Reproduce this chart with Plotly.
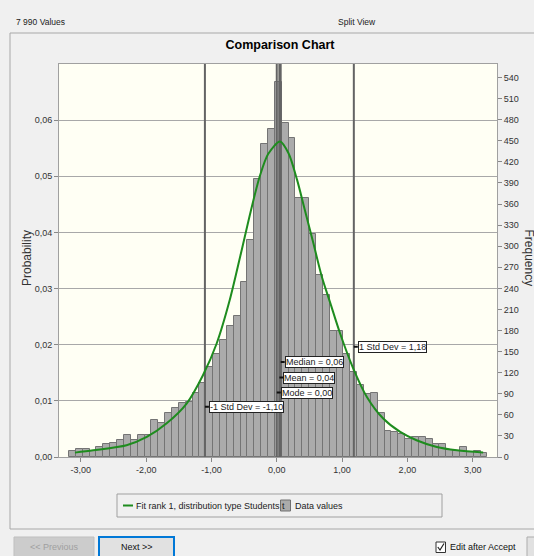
import plotly.graph_objects as go

# ---------------- data ----------------
N_VALUES = 7990
bin_start = -3.18
bin_width = 0.105
bin_counts = [9, 12, 11, 8, 14, 18, 20, 24, 31, 24,
              31, 32, 53, 48, 62, 70, 77, 78, 91, 105,
              128, 146, 166, 186, 200, 249, 309, 395, 446, 467,
              533, 476, 454, 369, 369, 318, 259, 230, 180, 180,
              147, 121, 103, 90, 91, 62, 37, 36, 33, 26,
              28, 29, 26, 19, 18, 10, 8, 14, 7, 8, 5]

curve_x = [-3.09, -2.81, -2.30, -1.99, -1.69, -1.38, -1.13, -0.92, -0.72, -0.55,
           -0.40, -0.26, -0.13, 0.05, 0.18, 0.31, 0.43, 0.56, 0.69, 0.82,
           0.97, 1.17, 1.38, 1.63, 1.89, 2.14, 2.45, 2.76, 3.16]
curve_p = [0.00078, 0.00119, 0.00209, 0.00357, 0.00596, 0.00952, 0.01457, 0.02022, 0.02795, 0.0362,
           0.0437, 0.0500, 0.0540, 0.0562, 0.0541, 0.0494, 0.0440, 0.0381, 0.0321, 0.0274,
           0.0220, 0.0158, 0.0107, 0.00685, 0.00446, 0.00298, 0.00178, 0.00119, 0.00078]

stat_labels = ["-1 Std Dev", "Mode", "Mean", "Median", "1 Std Dev"]
stat_values = [-1.10, 0.00, 0.04, 0.06, 1.18]

x_ticks = [-3, -2, -1, 0, 1, 2, 3]
x_tick_labels = ["-3,00", "-2,00", "-1,00", "0,00", "1,00", "2,00", "3,00"]
prob_ticks = [0.0, 0.01, 0.02, 0.03, 0.04, 0.05, 0.06]
prob_tick_labels = ["0,00", "0,01", "0,02", "0,03", "0,04", "0,05", "0,06"]
freq_ticks = [0, 30, 60, 90, 120, 150, 180, 210, 240, 270, 300, 330, 360, 390, 420, 450, 480, 510, 540]

fit_name = "Fit rank 1, distribution type Students t"
data_name = "Data values"

# ---------------- layout helpers ----------------
W, H = 534, 556
ML, MR, MT, MB = 59, 37, 64, 99
PW, PH = W - ML - MR, H - MT - MB
Y_MAX = 0.07
X_RANGE = [-3.334, 3.372]

FONT = "Liberation Sans, Arial, sans-serif"


def px(x):
    return (x - ML) / PW


def py(y):
    return (H - MB - y) / PH


centers = [bin_start + bin_width * (i + 0.5) for i in range(len(bin_counts))]
probs = [c / N_VALUES for c in bin_counts]

fig = go.Figure()

fig.add_trace(go.Bar(
    x=centers, y=probs, width=bin_width, name=data_name,
    marker=dict(color="#ababab", line=dict(color="#747474", width=1)),
    showlegend=False,
))

for v in stat_values:
    fig.add_trace(go.Scatter(
        x=[v, v], y=[0, Y_MAX], mode="lines",
        line=dict(color="#646464", width=2), showlegend=False, hoverinfo="skip",
    ))

fig.add_trace(go.Scatter(
    x=curve_x, y=curve_p, mode="lines", name=fit_name,
    line=dict(color="#1e8c1e", width=2, shape="spline", smoothing=0.8),
    showlegend=False,
))

# frequency axis carrier (counts)
fig.add_trace(go.Scatter(
    x=centers, y=bin_counts, yaxis="y2", mode="markers",
    marker=dict(opacity=0), showlegend=False, hoverinfo="skip",
))

label_y_px = {"-1 Std Dev": 406.7, "Mode": 392.5, "Mean": 377.5, "Median": 362.0, "1 Std Dev": 346.7}

annotations = []
for name, v in zip(stat_labels, stat_values):
    txt = f"{name} = {v:.2f}".replace(".", ",")
    annotations.append(dict(
        x=v, xref="x", y=py(label_y_px[name]), yref="paper",
        text=txt, showarrow=True, ax=4, ay=0, arrowhead=0, arrowwidth=2, arrowcolor="#111111",
        xanchor="left", yanchor="middle", bgcolor="white", bordercolor="#222222",
        borderwidth=1, borderpad=0, font=dict(size=9, family=FONT, color="#222222"),
    ))


def label(xp, yp, text, size=9, color="#222222", xanchor="center", angle=0):
    return dict(x=px(xp), y=py(yp), xref="paper", yref="paper", text=text, textangle=angle,
                xanchor=xanchor, yanchor="middle", showarrow=False,
                font=dict(size=size, family=FONT, color=color))


# axis titles
annotations.append(label(27, 258, "Probability", size=12, color="#333333", angle=-90))
annotations.append(label(528.5, 258, "Frequency", size=12, color="#333333", angle=90))
# header
annotations.append(label(14, 22, "7 990 Values", size=8.5, xanchor="left"))
annotations.append(label(357, 22, "Split View", size=8.5))
# legend texts
annotations.append(label(134, 505.5, fit_name, size=9, xanchor="left"))
annotations.append(label(292.5, 505.5, data_name, size=9, xanchor="left"))
# buttons
annotations.append(label(54, 546.5, "<< Previous", size=9, color="#a0a0a0"))
annotations.append(label(137, 546.5, "Next >>", size=9, color="#111111"))
annotations.append(label(447.5, 547, "Edit after Accept", size=9, color="#111111", xanchor="left"))


def rect(x0, y0, x1, y1, line="#a0a0a0", fill="rgba(0,0,0,0)", width=1, layer="above"):
    return dict(type="rect", xref="paper", yref="paper", x0=px(x0), x1=px(x1), y0=py(y0), y1=py(y1),
                line=dict(color=line, width=width), fillcolor=fill, layer=layer)


shapes = [
    rect(10, 33, 545, 529, line="#a8a8a8"),
    # legend box & symbols
    rect(117, 494, 442, 517, line="#a0a0a0"),
    dict(type="line", xref="paper", yref="paper", x0=px(123), x1=px(133), y0=py(505.5), y1=py(505.5),
         line=dict(color="#1e8c1e", width=2)),
    rect(280.5, 500, 290.5, 511, line="#707070", fill="#ababab"),
    # buttons
    rect(14, 537, 94, 562, line="#bfbfbf", fill="#cccccc"),
    rect(99, 537, 174, 562, line="#0078d7", fill="#e1e1e1", width=2),
    rect(527, 537, 545, 562, line="#adadad", fill="#e1e1e1"),
    # checkbox
    rect(436, 542, 445.5, 552.5, line="#333333", fill="#ffffff"),
    dict(type="path", xref="paper", yref="paper",
         path=f"M {px(437.8)},{py(547)} L {px(440)},{py(550)} L {px(444)},{py(543.5)}",
         line=dict(color="#222222", width=1.2)),
]

tickfont = dict(size=9, family=FONT, color="#333333")

fig.update_layout(
    width=W, height=H,
    margin=dict(l=ML, r=MR, t=MT, b=MB, pad=0),
    paper_bgcolor="#f0f0f0",
    plot_bgcolor="#fffff4",
    showlegend=False,
    bargap=0,
    title=dict(text="<b>Comparison Chart</b>", x=280 / W, xanchor="center", y=1 - 45 / H,
               yanchor="middle", font=dict(size=12.5, family=FONT, color="#000000")),
    xaxis=dict(range=X_RANGE, tickvals=x_ticks, ticktext=x_tick_labels, ticks="outside", ticklen=4,
               tickcolor="#888888", showline=True, linecolor="#a0a0a0", mirror=True, showgrid=False,
               zeroline=False, tickfont=tickfont),
    yaxis=dict(range=[0, Y_MAX], tickvals=prob_ticks, ticktext=prob_tick_labels, ticks="outside",
               ticklen=4, tickcolor="#888888", showline=True, linecolor="#a0a0a0", mirror=True,
               showgrid=True, gridcolor="#a8a8a8", gridwidth=1, zeroline=False, tickfont=tickfont),
    yaxis2=dict(overlaying="y", side="right", range=[0, Y_MAX * N_VALUES], tickvals=freq_ticks,
                ticks="outside", ticklen=4, tickcolor="#888888", showgrid=False, zeroline=False,
                showline=False, tickfont=tickfont),
    annotations=annotations,
    shapes=shapes,
)

fig.write_html("out.html", config={"displayModeBar": False},
               post_script="document.body.style.margin='0px';document.body.style.background='#f0f0f0';")
